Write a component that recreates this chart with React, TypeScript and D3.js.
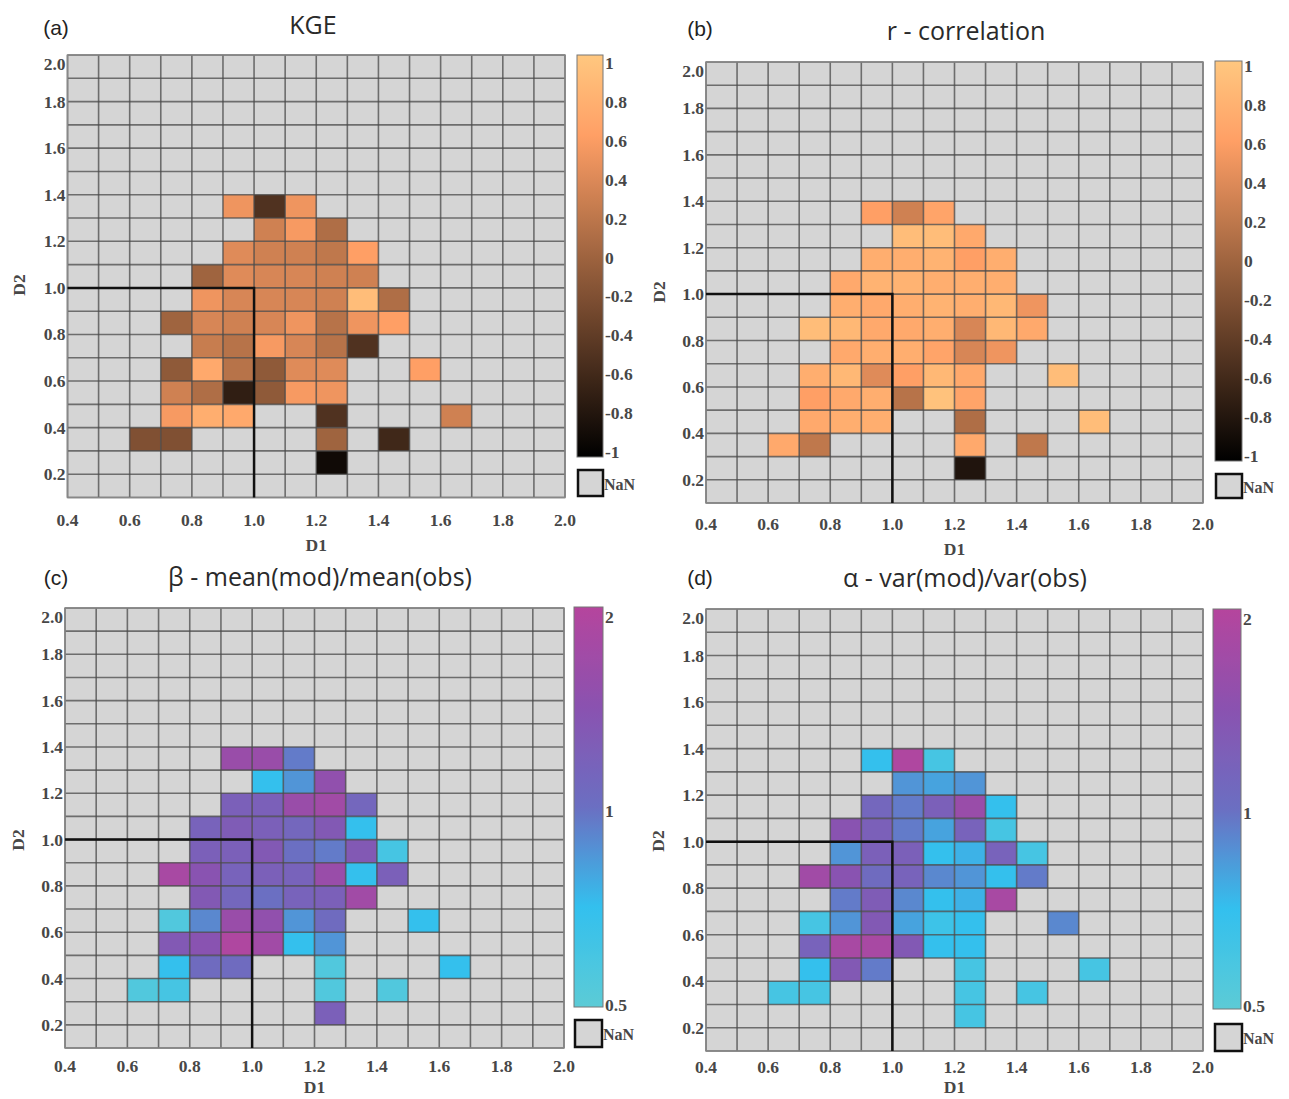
import React from "react";
import * as d3 from "d3";

// ---------- data ----------
const D1_DOMAIN = [0.4, 2.0];
const D2_DOMAIN = [0.1, 2.0];
const CELL = 0.1;
const D1_TICKS = [0.4, 0.6, 0.8, 1.0, 1.2, 1.4, 1.6, 1.8, 2.0];
const D2_TICKS = [0.2, 0.4, 0.6, 0.8, 1.0, 1.2, 1.4, 1.6, 1.8, 2.0];
const REF_POINT = [1.0, 1.0];

const COPPER_TICKS = [1, 0.8, 0.6, 0.4, 0.2, 0, -0.2, -0.4, -0.6, -0.8, -1];
const RATIO_TICKS = [2, 1, 0.5];

const TITLES = ["KGE", "r - correlation", "β - mean(mod)/mean(obs)", "α - var(mod)/var(obs)"];
const PANEL_LABELS = ["(a)", "(b)", "(c)", "(d)"];

// [D1 lower edge, D2 lower edge, value]
type Cell = [number, number, number];

const kgeCells: Cell[] = [
  [0.9, 1.3, 0.5], [1.0, 1.3, -0.5], [1.1, 1.3, 0.5],
  [1.0, 1.2, 0.3], [1.1, 1.2, 0.55], [1.2, 1.2, 0.1],
  [0.9, 1.1, 0.4], [1.0, 1.1, 0.3], [1.1, 1.1, 0.3], [1.2, 1.1, 0.2], [1.3, 1.1, 0.6],
  [0.8, 1.0, 0.0], [0.9, 1.0, 0.4], [1.0, 1.0, 0.35], [1.1, 1.0, 0.35], [1.2, 1.0, 0.3], [1.3, 1.0, 0.3],
  [0.8, 0.9, 0.5], [0.9, 0.9, 0.35], [1.0, 0.9, 0.35], [1.1, 0.9, 0.35], [1.2, 0.9, 0.3], [1.3, 0.9, 0.9], [1.4, 0.9, 0.1],
  [0.7, 0.8, 0.0], [0.8, 0.8, 0.35], [0.9, 0.8, 0.3], [1.0, 0.8, 0.35], [1.1, 0.8, 0.5], [1.2, 0.8, 0.15], [1.3, 0.8, 0.5], [1.4, 0.8, 0.6],
  [0.8, 0.7, 0.25], [0.9, 0.7, 0.15], [1.0, 0.7, 0.55], [1.1, 0.7, 0.35], [1.2, 0.7, 0.15], [1.3, 0.7, -0.5],
  [0.7, 0.6, -0.1], [0.8, 0.6, 0.7], [0.9, 0.6, 0.15], [1.0, 0.6, -0.1], [1.1, 0.6, 0.4], [1.2, 0.6, 0.4], [1.5, 0.6, 0.6],
  [0.7, 0.5, 0.3], [0.8, 0.5, 0.1], [0.9, 0.5, -0.7], [1.0, 0.5, -0.1], [1.1, 0.5, 0.55], [1.2, 0.5, 0.5],
  [0.7, 0.4, 0.55], [0.8, 0.4, 0.75], [0.9, 0.4, 0.7], [1.2, 0.4, -0.5], [1.6, 0.4, 0.3],
  [0.6, 0.3, -0.2], [0.7, 0.3, -0.2], [1.2, 0.3, 0.0], [1.4, 0.3, -0.6],
  [1.2, 0.2, -0.9],
];

const rCells: Cell[] = [
  [0.9, 1.3, 0.6], [1.0, 1.3, 0.3], [1.1, 1.3, 0.65],
  [1.0, 1.2, 0.9], [1.1, 1.2, 0.9], [1.2, 1.2, 0.7],
  [0.9, 1.1, 0.75], [1.0, 1.1, 0.75], [1.1, 1.1, 0.8], [1.2, 1.1, 0.6], [1.3, 1.1, 0.75],
  [0.8, 1.0, 0.7], [0.9, 1.0, 0.8], [1.0, 1.0, 0.8], [1.1, 1.0, 0.75], [1.2, 1.0, 0.75], [1.3, 1.0, 0.75],
  [0.8, 0.9, 0.75], [0.9, 0.9, 0.7], [1.0, 0.9, 0.75], [1.1, 0.9, 0.8], [1.2, 0.9, 0.75], [1.3, 0.9, 0.85], [1.4, 0.9, 0.5],
  [0.7, 0.8, 0.9], [0.8, 0.8, 0.85], [0.9, 0.8, 0.7], [1.0, 0.8, 0.7], [1.1, 0.8, 0.75], [1.2, 0.8, 0.35], [1.3, 0.8, 0.85], [1.4, 0.8, 0.7],
  [0.8, 0.7, 0.7], [0.9, 0.7, 0.75], [1.0, 0.7, 0.75], [1.1, 0.7, 0.65], [1.2, 0.7, 0.35], [1.3, 0.7, 0.5],
  [0.7, 0.6, 0.75], [0.8, 0.6, 0.85], [0.9, 0.6, 0.4], [1.0, 0.6, 0.6], [1.1, 0.6, 0.85], [1.2, 0.6, 0.7], [1.5, 0.6, 0.9],
  [0.7, 0.5, 0.6], [0.8, 0.5, 0.7], [0.9, 0.5, 0.75], [1.0, 0.5, 0.15], [1.1, 0.5, 0.95], [1.2, 0.5, 0.65],
  [0.7, 0.4, 0.7], [0.8, 0.4, 0.75], [0.9, 0.4, 0.75], [1.2, 0.4, 0.1], [1.6, 0.4, 0.9],
  [0.6, 0.3, 0.7], [0.7, 0.3, 0.2], [1.2, 0.3, 0.7], [1.4, 0.3, 0.2],
  [1.2, 0.2, -0.8],
];

const betaCells: Cell[] = [
  [0.9, 1.3, 1.6], [1.0, 1.3, 1.6], [1.1, 1.3, 0.95],
  [1.0, 1.2, 0.7], [1.1, 1.2, 0.85], [1.2, 1.2, 1.5],
  [0.9, 1.1, 1.2], [1.0, 1.1, 1.2], [1.1, 1.1, 1.6], [1.2, 1.1, 1.7], [1.3, 1.1, 1.1],
  [0.8, 1.0, 1.15], [0.9, 1.0, 1.25], [1.0, 1.0, 1.2], [1.1, 1.0, 1.1], [1.2, 1.0, 1.3], [1.3, 1.0, 0.7],
  [0.8, 0.9, 1.2], [0.9, 0.9, 1.2], [1.0, 0.9, 1.3], [1.1, 0.9, 1.0], [1.2, 0.9, 0.95], [1.3, 0.9, 1.3], [1.4, 0.9, 0.6],
  [0.7, 0.8, 1.8], [0.8, 0.8, 1.4], [0.9, 0.8, 1.15], [1.0, 0.8, 1.2], [1.1, 0.8, 1.15], [1.2, 0.8, 1.6], [1.3, 0.8, 0.7], [1.4, 0.8, 1.2],
  [0.8, 0.7, 1.3], [0.9, 0.7, 1.1], [1.0, 0.7, 1.0], [1.1, 0.7, 1.15], [1.2, 0.7, 1.2], [1.3, 0.7, 1.7],
  [0.7, 0.6, 0.55], [0.8, 0.6, 0.9], [0.9, 0.6, 1.6], [1.0, 0.6, 1.5], [1.1, 0.6, 0.85], [1.2, 0.6, 1.05], [1.5, 0.6, 0.7],
  [0.7, 0.5, 1.3], [0.8, 0.5, 1.4], [0.9, 0.5, 1.9], [1.0, 0.5, 1.7], [1.1, 0.5, 0.7], [1.2, 0.5, 0.85],
  [0.7, 0.4, 0.7], [0.8, 0.4, 1.05], [0.9, 0.4, 1.05], [1.2, 0.4, 0.55], [1.6, 0.4, 0.7],
  [0.6, 0.3, 0.55], [0.7, 0.3, 0.6], [1.2, 0.3, 0.55], [1.4, 0.3, 0.55],
  [1.2, 0.2, 1.2],
];

const alphaCells: Cell[] = [
  [0.9, 1.3, 0.7], [1.0, 1.3, 1.9], [1.1, 1.3, 0.6],
  [1.0, 1.2, 0.85], [1.1, 1.2, 0.8], [1.2, 1.2, 0.85],
  [0.9, 1.1, 1.1], [1.0, 1.1, 0.95], [1.1, 1.1, 1.2], [1.2, 1.1, 1.6], [1.3, 1.1, 0.7],
  [0.8, 1.0, 1.4], [0.9, 1.0, 1.2], [1.0, 1.0, 0.95], [1.1, 1.0, 0.8], [1.2, 1.0, 1.15], [1.3, 1.0, 0.6],
  [0.8, 0.9, 0.85], [0.9, 0.9, 1.2], [1.0, 0.9, 1.2], [1.1, 0.9, 0.7], [1.2, 0.9, 0.75], [1.3, 0.9, 1.15], [1.4, 0.9, 0.6],
  [0.7, 0.8, 1.7], [0.8, 0.8, 1.4], [0.9, 0.8, 1.05], [1.0, 0.8, 1.15], [1.1, 0.8, 0.9], [1.2, 0.8, 0.85], [1.3, 0.8, 0.7], [1.4, 0.8, 0.95],
  [0.8, 0.7, 0.95], [0.9, 0.7, 1.25], [1.0, 0.7, 0.9], [1.1, 0.7, 0.7], [1.2, 0.7, 0.75], [1.3, 0.7, 1.8],
  [0.7, 0.6, 0.6], [0.8, 0.6, 0.85], [0.9, 0.6, 1.3], [1.0, 0.6, 0.8], [1.1, 0.6, 0.65], [1.2, 0.6, 0.7], [1.5, 0.6, 0.9],
  [0.7, 0.5, 1.15], [0.8, 0.5, 1.8], [0.9, 0.5, 1.8], [1.0, 0.5, 1.3], [1.1, 0.5, 0.7], [1.2, 0.5, 0.7],
  [0.7, 0.4, 0.7], [0.8, 0.4, 1.3], [0.9, 0.4, 0.95], [1.2, 0.4, 0.6], [1.6, 0.4, 0.6],
  [0.6, 0.3, 0.6], [0.7, 0.3, 0.6], [1.2, 0.3, 0.6], [1.4, 0.3, 0.6],
  [1.2, 0.2, 0.6],
];

// ---------- colour maps ----------
const copper = (v: number) => {
  const t = Math.max(0, Math.min(1, (v + 1) / 2));
  return d3.rgb(255 * Math.min(1, 1.25 * t), 255 * 0.7812 * t, 255 * 0.4975 * t).formatHex();
};
const ratioScale = d3
  .scaleLinear<string>()
  .domain([-1, -0.5, 0, 0.5, 1])
  .range(["#5ccbd6", "#33c0ee", "#6b6fc2", "#8a52b0", "#b5459d"])
  .interpolate(d3.interpolateRgb)
  .clamp(true);
const ratioColor = (v: number) => ratioScale(Math.log2(v));

// ---------- layout ----------
type Layout = {
  grid: { x0: number; x1: number; y0: number; y1: number };
  cbar: { x: number; y0: number; y1: number; w: number; l0: number; l1: number };
  nan: { x: number; y: number; w: number; h: number };
  title: [number, number];
  label: [number, number];
  d2: [number, number];
  xtickY: number;
  d1Y: number;
};

const LAYOUTS: Layout[] = [
  {
    grid: { x0: 67.5, x1: 565, y0: 55, y1: 497.5 },
    cbar: { x: 577, y0: 55, y1: 457, w: 26, l0: 452, l1: 63 },
    nan: { x: 578, y: 470, w: 25, h: 26 },
    title: [313, 24], label: [56, 27], d2: [19, 285], xtickY: 520, d1Y: 545,
  },
  {
    grid: { x0: 706, x1: 1203, y0: 62, y1: 503 },
    cbar: { x: 1215, y0: 61, y1: 461, w: 27, l0: 456, l1: 66 },
    nan: { x: 1216, y: 474, w: 26, h: 24 },
    title: [966, 30], label: [700, 28], d2: [659, 292], xtickY: 524, d1Y: 549,
  },
  {
    grid: { x0: 65, x1: 564, y0: 608, y1: 1048 },
    cbar: { x: 574, y0: 607, y1: 1007, w: 29, l0: 1005, l1: 617 },
    nan: { x: 575, y: 1020, w: 27, h: 27 },
    title: [320, 576], label: [56, 577], d2: [18, 840], xtickY: 1066, d1Y: 1087,
  },
  {
    grid: { x0: 706, x1: 1203, y0: 609, y1: 1051 },
    cbar: { x: 1213, y0: 609, y1: 1009, w: 28, l0: 1006, l1: 619 },
    nan: { x: 1215, y: 1024, w: 27, h: 27 },
    title: [965, 577], label: [700, 577], d2: [658, 841], xtickY: 1067, d1Y: 1087,
  },
];

const TICK_FONT = "'Liberation Serif', 'DejaVu Serif', serif";
const TITLE_FONT = "'Open Sans', 'Noto Sans', sans-serif";
const LABEL_FONT = "'Liberation Sans', Arial, sans-serif";
const TICK_SIZE = 17.5;
const TICK_FILL = "#474747";
const fmt1 = d3.format(".1f");

type PanelProps = {
  idx: number;
  cells: Cell[];
  color: (v: number) => string;
  cbTicks: number[];
  cbScaleKind: "linear" | "log";
  cbDomain: [number, number];
};

function Panel({ idx, cells, color, cbTicks, cbScaleKind, cbDomain }: PanelProps) {
  const L = LAYOUTS[idx];
  const g = L.grid;
  const x = d3.scaleLinear().domain(D1_DOMAIN).range([g.x0, g.x1]);
  const y = d3.scaleLinear().domain(D2_DOMAIN).range([g.y1, g.y0]);
  const nx = Math.round((D1_DOMAIN[1] - D1_DOMAIN[0]) / CELL);
  const ny = Math.round((D2_DOMAIN[1] - D2_DOMAIN[0]) / CELL);
  const xEdges = d3.range(nx + 1).map((i) => D1_DOMAIN[0] + i * CELL);
  const yEdges = d3.range(ny + 1).map((j) => D2_DOMAIN[0] + j * CELL);

  const cb = L.cbar;
  const cbScale =
    cbScaleKind === "log"
      ? d3.scaleLog().domain(cbDomain).range([cb.l0, cb.l1])
      : d3.scaleLinear().domain(cbDomain).range([cb.l0, cb.l1]);
  const gradId = `grad${idx}`;
  const stops = d3.range(0, 41).map((i) => {
    const f = i / 40;
    const v =
      cbScaleKind === "log"
        ? cbDomain[0] * Math.pow(cbDomain[1] / cbDomain[0], f)
        : cbDomain[0] + (cbDomain[1] - cbDomain[0]) * f;
    return { off: f, c: color(v) };
  });
  const cbLabel = (v: number) => {
    if (cbScaleKind === "log") return String(v);
    if (v === 0) return "0";
    if (Math.abs(v) === 1) return v < 0 ? "-1" : "1";
    return (v < 0 ? "-" : "") + Math.abs(v).toFixed(1);
  };
  const tickProps = { fontFamily: TICK_FONT, fontWeight: "bold" as const, fontSize: TICK_SIZE, fill: TICK_FILL };

  return (
    <g>
      <defs>
        <linearGradient id={gradId} x1="0" y1="1" x2="0" y2="0">
          {stops.map((s, i) => (
            <stop key={i} offset={s.off} stopColor={s.c} />
          ))}
        </linearGradient>
      </defs>
      <rect x={g.x0} y={g.y0} width={g.x1 - g.x0} height={g.y1 - g.y0} fill="#d5d5d5" />
      {cells.map(([d1, d2, v], i) => (
        <rect
          key={i}
          x={x(d1)}
          y={y(d2 + CELL)}
          width={x(d1 + CELL) - x(d1)}
          height={y(d2) - y(d2 + CELL)}
          fill={color(v)}
        />
      ))}
      {xEdges.map((e, i) => (
        <line key={"vx" + i} x1={x(e)} x2={x(e)} y1={g.y0} y2={g.y1} stroke="#4a4a4a" strokeOpacity={0.75} strokeWidth={1.6} />
      ))}
      {yEdges.map((e, i) => (
        <line key={"hy" + i} x1={g.x0} x2={g.x1} y1={y(e)} y2={y(e)} stroke="#4a4a4a" strokeOpacity={0.75} strokeWidth={1.6} />
      ))}
      <rect x={g.x0} y={g.y0} width={g.x1 - g.x0} height={g.y1 - g.y0} fill="none" stroke="#888" strokeWidth={1.5} />
      <path
        d={`M${x(D1_DOMAIN[0])},${y(REF_POINT[1])} L${x(REF_POINT[0])},${y(REF_POINT[1])} L${x(REF_POINT[0])},${y(D2_DOMAIN[0])}`}
        fill="none"
        stroke="#111"
        strokeWidth={2.5}
      />
      {D1_TICKS.map((t, i) => (
        <text key={"xt" + i} x={x(t)} y={L.xtickY} textAnchor="middle" dominantBaseline="central" {...tickProps}>{fmt1(t)}</text>
      ))}
      {D2_TICKS.map((t, i) => (
        <text key={"yt" + i} x={g.x0 - 2} y={Math.max(y(t), g.y0 + 9)} textAnchor="end" dominantBaseline="central" {...tickProps}>{fmt1(t)}</text>
      ))}
      <text x={(g.x0 + g.x1) / 2} y={L.d1Y} textAnchor="middle" dominantBaseline="central" {...tickProps}>D1</text>
      <text transform={`translate(${L.d2[0]},${L.d2[1]}) rotate(-90)`} textAnchor="middle" dominantBaseline="central" {...tickProps}>D2</text>
      <text x={L.title[0]} y={L.title[1]} textAnchor="middle" dominantBaseline="central"
        fontFamily={TITLE_FONT} fontSize={25} fill="#2a2a2a">{TITLES[idx]}</text>
      <text x={L.label[0]} y={L.label[1]} textAnchor="middle" dominantBaseline="central"
        fontFamily={LABEL_FONT} fontSize={21} fill="#222">{PANEL_LABELS[idx]}</text>
      <rect x={cb.x} y={cb.y0} width={cb.w} height={cb.y1 - cb.y0} fill={`url(#${gradId})`} stroke="#777" strokeWidth={1} />
      {cbTicks.map((t, i) => (
        <text key={"cb" + i} x={cb.x + cb.w + 2} y={cbScale(t)} textAnchor="start" dominantBaseline="central" {...tickProps}>{cbLabel(t)}</text>
      ))}
      <rect x={L.nan.x} y={L.nan.y} width={L.nan.w} height={L.nan.h} fill="#d5d5d5" stroke="#111" strokeWidth={2.5} />
      <text x={L.nan.x + L.nan.w + 1} y={L.nan.y + L.nan.h / 2 + 1} textAnchor="start" dominantBaseline="central"
        {...tickProps} fontSize={16}>NaN</text>
    </g>
  );
}

export default function App() {
  return (
    <svg width={1289} height={1099} style={{ position: "absolute", left: 0, top: 0, background: "#fff" }}>
      <rect x={0} y={0} width={1289} height={1099} fill="#fff" />
      <Panel idx={0} cells={kgeCells} color={copper} cbTicks={COPPER_TICKS} cbScaleKind="linear" cbDomain={[-1, 1]} />
      <Panel idx={1} cells={rCells} color={copper} cbTicks={COPPER_TICKS} cbScaleKind="linear" cbDomain={[-1, 1]} />
      <Panel idx={2} cells={betaCells} color={ratioColor} cbTicks={RATIO_TICKS} cbScaleKind="log" cbDomain={[0.5, 2]} />
      <Panel idx={3} cells={alphaCells} color={ratioColor} cbTicks={RATIO_TICKS} cbScaleKind="log" cbDomain={[0.5, 2]} />
    </svg>
  );
}
